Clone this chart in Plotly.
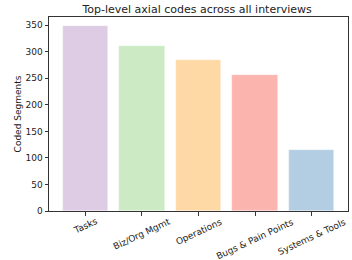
import plotly.graph_objects as go

categories = ["Tasks", "Biz/Org Mgmt", "Operations", "Bugs & Pain Points", "Systems & Tools"]
values = [348, 311, 284, 256, 115]
colors = ["#decbe4", "#ccebc5", "#fed9a6", "#fbb4ae", "#b3cde3"]
y_ticks = [0, 50, 100, 150, 200, 250, 300, 350]

FONT = "DejaVu Sans"
TXT = "#222222"

fig = go.Figure()
fig.add_trace(go.Bar(
    x=list(range(len(categories))), y=values, width=0.8,
    marker=dict(color=colors, line=dict(color="rgba(255,255,255,0.6)", width=0.6)),
    showlegend=False,
))

for i, c in enumerate(categories):
    fig.add_annotation(
        x=i, y=0, xref="x", yref="paper", text=c, showarrow=False,
        textangle=-25, xanchor="center", yanchor="top", yshift=-3,
        font=dict(family=FONT, size=9, color=TXT),
    )

fig.update_layout(
    width=352, height=260,
    margin=dict(l=49, r=4, t=17, b=49, autoexpand=False),
    paper_bgcolor="white", plot_bgcolor="white",
    font=dict(family=FONT, size=9, color=TXT),
    title=dict(text="Top-level axial codes across all interviews",
               x=0.56, xanchor="center", y=0.98, yanchor="top",
               font=dict(family=FONT, size=11, color=TXT)),
    bargap=0,
)
fig.update_xaxes(
    range=[-0.64, 4.64], tickvals=list(range(len(categories))), ticktext=[""] * len(categories),
    showline=True, linecolor="#333333", linewidth=1, mirror=True, automargin=False,
    ticks="outside", ticklen=3.5, tickcolor="#333333", showgrid=False, zeroline=False,
)
fig.update_yaxes(
    range=[0, 365.4], tickvals=y_ticks, automargin=False,
    showline=True, linecolor="#333333", linewidth=1, mirror=True,
    ticks="outside", ticklen=3.5, tickcolor="#333333", showgrid=False, zeroline=False,
    title=dict(text="Coded Segments", font=dict(family=FONT, size=9, color=TXT), standoff=2),
    tickfont=dict(family=FONT, size=9, color=TXT),
)

fig.write_html("out.html", config={"displayModeBar": False},
               post_script="document.body.style.margin='0';")
